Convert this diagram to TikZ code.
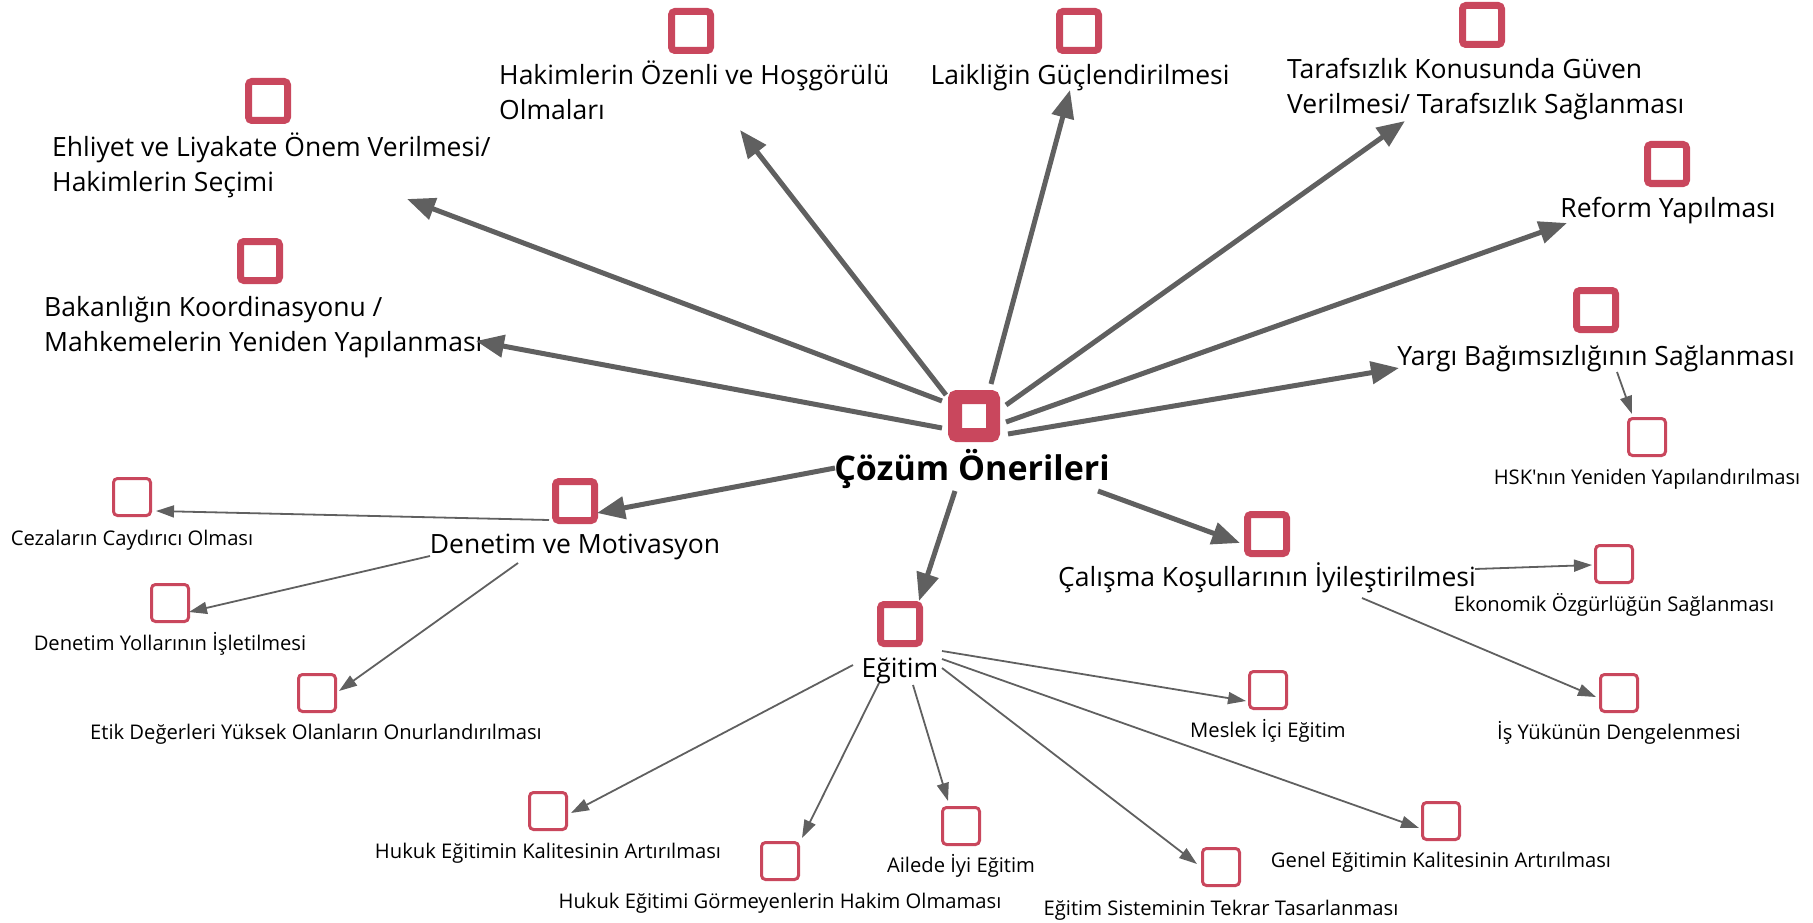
\documentclass[tikz,border=0pt]{standalone}
\usepackage{fontspec}
\setmainfont{Open Sans}[Ligatures=TeXOff]
\usetikzlibrary{arrows.meta}
\definecolor{boxred}{RGB}{201,71,93}
\definecolor{arrowgray}{RGB}{96,96,96}
\begin{document}
\begin{tikzpicture}[x=1pt,y=-1pt,
 hubbox/.style={draw=boxred, line width=14pt, rounded corners=2pt, minimum size=38pt, inner sep=0pt},
 mainbox/.style={draw=boxred, line width=7pt, rounded corners=3.5pt, minimum size=39pt, inner sep=0pt},
 subbox/.style={draw=boxred, line width=3pt, rounded corners=4pt, minimum size=37pt, inner sep=0pt},
 hublabel/.style={font=\fontsize{34}{39}\selectfont\bfseries, inner sep=0pt, anchor=base},
 mainlabel/.style={font=\fontsize{26.5}{35}\selectfont, inner sep=0pt, anchor=base},
 mainmulti/.style={font=\fontsize{26.5}{35}\selectfont, inner sep=0pt, align=left, anchor=base west},
 sublabel/.style={font=\fontsize{20.2}{24}\selectfont, inner sep=0pt, anchor=base},
 bigarrow/.style={draw=arrowgray, line width=5pt, -{Triangle[length=28pt,width=22pt]}},
 smallarrow/.style={draw=arrowgray, line width=1.8pt, -{Triangle[length=18pt,width=12pt]}},
]
\useasboundingbox (0,0) rectangle (1813,923);

% hub
\node[hubbox] (cb) at (974,416) {};
\node[hublabel] (cl) at (972,480) {Çözüm Önerileri};

% first level (multi-line labels are anchored at the baseline of their last line)
\node[mainbox] (b1) at (268,101) {};
\node[mainmulti] (l1) at (52,191) {Ehliyet ve Liyakate Önem Verilmesi/\\Hakimlerin Seçimi};
\node[mainbox] (b2) at (691,31) {};
\node[mainmulti] (l2) at (499,120) {Hakimlerin Özenli ve Hoşgörülü\\Olmaları};
\node[mainbox] (b3) at (1079,31) {};
\node[mainlabel] (l3) at (1080,85) {Laikliğin Güçlendirilmesi};
\node[mainbox] (b4) at (1482,25) {};
\node[mainmulti] (l4) at (1287,114) {Tarafsızlık Konusunda Güven\\Verilmesi/ Tarafsızlık Sağlanması};
\node[mainbox] (b5) at (1667,164) {};
\node[mainlabel] (l5) at (1668,217) {Reform Yapılması};
\node[mainbox] (b6) at (1596,310) {};
\node[mainlabel] (l6) at (1596,365) {Yargı Bağımsızlığının Sağlanması};
\node[mainbox] (b7) at (260,261) {};
\node[mainmulti] (l7) at (44,351) {Bakanlığın Koordinasyonu /\\Mahkemelerin Yeniden Yapılanması};
\node[mainbox] (b8) at (575,501) {};
\node[mainlabel] (l8) at (575,553) {Denetim ve Motivasyon};
\node[mainbox] (b9) at (900,624) {};
\node[mainlabel] (l9) at (900,677) {Eğitim};
\node[mainbox] (b10) at (1267,534) {};
\node[mainlabel] (l10) at (1267,586) {Çalışma Koşullarının İyileştirilmesi};

% second level
\node[subbox] (s1) at (1647,437) {};
\node[sublabel] (t1) at (1647,484) {HSK'nın Yeniden Yapılandırılması};
\node[subbox] (s2) at (132,497) {};
\node[sublabel] (t2) at (132,545) {Cezaların Caydırıcı Olması};
\node[subbox] (s3) at (170,603) {};
\node[sublabel] (t3) at (170,650) {Denetim Yollarının İşletilmesi};
\node[subbox] (s4) at (317,693) {};
\node[sublabel] (t4) at (316,739) {Etik Değerleri Yüksek Olanların Onurlandırılması};
\node[subbox] (s5) at (1614,564) {};
\node[sublabel] (t5) at (1614,611) {Ekonomik Özgürlüğün Sağlanması};
\node[subbox] (s6) at (1619,693) {};
\node[sublabel] (t6) at (1619,739) {İş Yükünün Dengelenmesi};
\node[subbox] (s7) at (1268,690) {};
\node[sublabel] (t7) at (1268,737) {Meslek İçi Eğitim};
\node[subbox] (s8) at (548,811) {};
\node[sublabel] (t8) at (548,858) {Hukuk Eğitimin Kalitesinin Artırılması};
\node[subbox] (s9) at (780,861) {};
\node[sublabel] (t9) at (780,908) {Hukuk Eğitimi Görmeyenlerin Hakim Olmaması};
\node[subbox] (s10) at (961,826) {};
\node[sublabel] (t10) at (961,872) {Ailede İyi Eğitim};
\node[subbox] (s11) at (1221,867) {};
\node[sublabel] (t11) at (1221,915) {Eğitim Sisteminin Tekrar Tasarlanması};
\node[subbox] (s12) at (1441,821) {};
\node[sublabel] (t12) at (1441,867) {Genel Eğitimin Kalitesinin Artırılması};

% thick connectors
\draw[bigarrow] ([shift={(-32,-15)}]cb.center) -- ([shift={(139,98)}]b1.center);
\draw[bigarrow] ([shift={(-28,-21)}]cb.center) -- ([shift={(49,99)}]b2.center);
\draw[bigarrow] ([shift={(17,-32)}]cb.center) -- ([shift={(-9,59)}]b3.center);
\draw[bigarrow] ([shift={(32,-11)}]cb.center) -- ([shift={(-77,96)}]b4.center);
\draw[bigarrow] ([shift={(32,6)}]cb.center) -- ([shift={(-100,59)}]b5.center);
\draw[bigarrow] ([shift={(34,18)}]cb.center) -- ([shift={(-197,58)}]b6.center);
\draw[bigarrow] ([shift={(-32,12)}]cb.center) -- ([shift={(216,80)}]b7.center);
\draw[bigarrow] ([shift={(-139,52)}]cb.center) -- ([shift={(22,12)}]b8.center);
\draw[bigarrow] ([shift={(-19,75)}]cb.center) -- ([shift={(19,-23)}]b9.center);
\draw[bigarrow] ([shift={(124,75)}]cb.center) -- ([shift={(-27,9)}]b10.center);

% thin connectors
\draw[smallarrow] ([shift={(21,62)}]b6.center) -- ([shift={(-15,-23)}]s1.center);
\draw[smallarrow] ([shift={(-26,19)}]b8.center) -- ([shift={(24,14)}]s2.center);
\draw[smallarrow] ([shift={(-145,55)}]b8.center) -- ([shift={(19,9)}]s3.center);
\draw[smallarrow] ([shift={(-57,62)}]b8.center) -- ([shift={(22,-2)}]s4.center);
\draw[smallarrow] ([shift={(208,35)}]b10.center) -- ([shift={(-22,1)}]s5.center);
\draw[smallarrow] ([shift={(95,64)}]b10.center) -- ([shift={(-23,4)}]s6.center);
\draw[smallarrow] ([shift={(42,27)}]b9.center) -- ([shift={(-22,11)}]s7.center);
\draw[smallarrow] ([shift={(-47,41)}]b9.center) -- ([shift={(23,2)}]s8.center);
\draw[smallarrow] ([shift={(-21,59)}]b9.center) -- ([shift={(22,-23)}]s9.center);
\draw[smallarrow] ([shift={(13,61)}]b9.center) -- ([shift={(-13,-25)}]s10.center);
\draw[smallarrow] ([shift={(42,44)}]b9.center) -- ([shift={(-24,-3)}]s11.center);
\draw[smallarrow] ([shift={(42,35)}]b9.center) -- ([shift={(-22,7)}]s12.center);
\end{tikzpicture}
\end{document}
